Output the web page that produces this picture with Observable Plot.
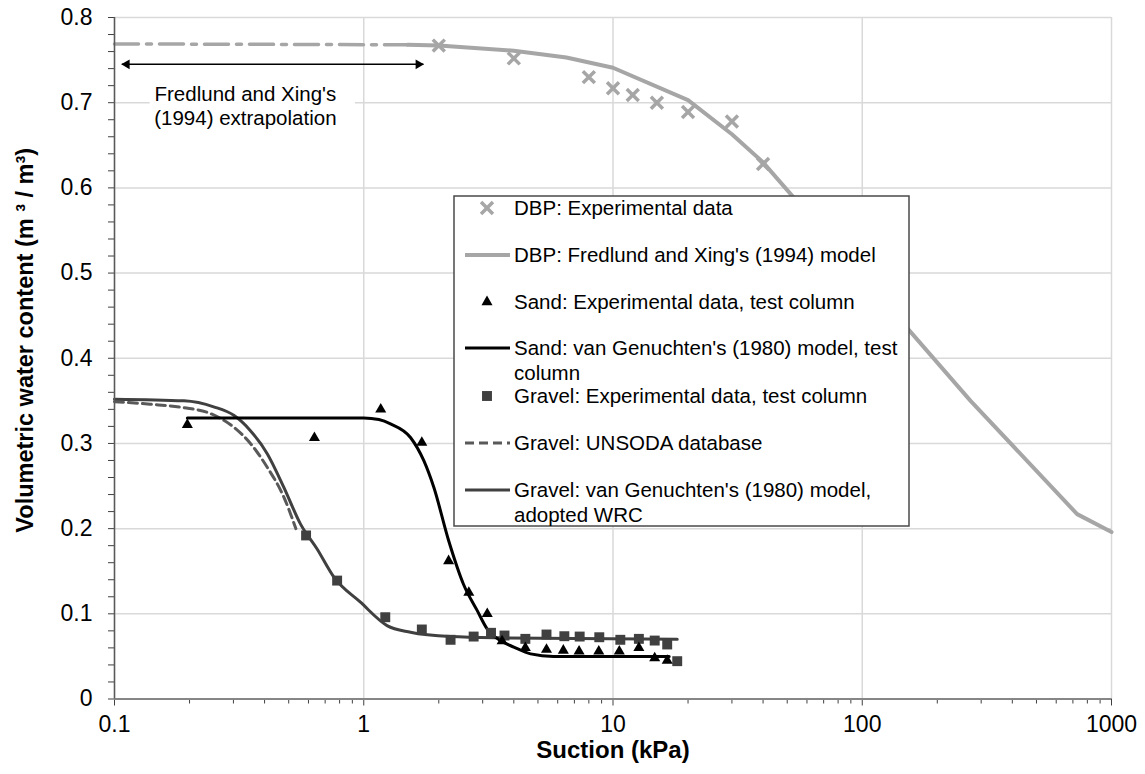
<!DOCTYPE html>
<html><head><meta charset="utf-8">
<script src="https://cdn.jsdelivr.net/npm/d3@7"></script>
<script src="https://cdn.jsdelivr.net/npm/@observablehq/plot@0.6"></script>
<style>
html,body{margin:0;padding:0;background:#fff;}
#chart{width:1145px;height:774px;}
</style></head><body><div id="chart"></div>
<script>
// ---- data ----
const dbpExpX = [2, 4, 8, 10, 12, 15, 20, 30, 40];
const dbpExpY = [0.767, 0.752, 0.730, 0.717, 0.709, 0.700, 0.689, 0.678, 0.628];
const dbpModelX = [1.5, 2, 4, 6.5, 10, 20, 30, 40, 272, 728, 1000];
const dbpModelY = [0.768, 0.767, 0.761, 0.753, 0.741, 0.703, 0.663, 0.630, 0.350, 0.217, 0.196];
const extrapX = [0.1, 1.5];
const extrapY = [0.769, 0.768];
const sandExpX = [0.196, 0.634, 1.17, 1.71, 2.19, 2.64, 3.13, 3.59, 4.45, 5.41, 6.32, 7.31, 8.77, 10.6, 12.7, 14.7, 16.5];
const sandExpY = [0.322, 0.3065, 0.340, 0.301, 0.162, 0.125, 0.100, 0.068, 0.060, 0.058, 0.057, 0.056, 0.056, 0.056, 0.060, 0.048, 0.045];
const sandModelX = [0.196, 0.5, 1.0, 1.15, 1.28, 1.54, 1.74, 1.91, 2.19, 2.51, 2.85, 3.13, 3.53, 4.0, 4.67, 5.78, 8, 12, 16.8];
const sandModelY = [0.330, 0.330, 0.330, 0.328, 0.323, 0.307, 0.280, 0.2485, 0.186, 0.135, 0.104, 0.082, 0.0686, 0.061, 0.053, 0.050, 0.0499, 0.0499, 0.0499];
const gravelExpX = [0.587, 0.782, 1.22, 1.71, 2.23, 2.76, 3.24, 3.67, 4.45, 5.41, 6.38, 7.35, 8.81, 10.7, 12.7, 14.7, 16.5, 18.1];
const gravelExpY = [0.192, 0.139, 0.096, 0.0816, 0.0695, 0.0733, 0.0777, 0.0745, 0.0706, 0.0757, 0.0737, 0.0733, 0.0725, 0.0695, 0.0706, 0.0686, 0.064, 0.0444];
const gravelModelX = [0.1, 0.19, 0.25, 0.301, 0.351, 0.41, 0.478, 0.557, 0.65, 0.759, 0.97, 1.24, 1.54, 2.23, 3.53, 18.1];
const gravelModelY = [0.352, 0.350, 0.343, 0.333, 0.315, 0.288, 0.2485, 0.2056, 0.176, 0.143, 0.1136, 0.0862, 0.0784, 0.0733, 0.0718, 0.0702];
const unsodaX = [0.1, 0.139, 0.19, 0.243, 0.301, 0.351, 0.41, 0.478, 0.534];
const unsodaY = [0.349, 0.346, 0.342, 0.335, 0.319, 0.300, 0.272, 0.237, 0.200];

const xMajor = [0.1, 1, 10, 100, 1000];
const xMinor = [2,3,4,5,6,7,8,9].flatMap(m => [0.1, 1, 10, 100].map(p => m * p));
const yMajor = [0, 0.1, 0.2, 0.3, 0.4, 0.5, 0.6, 0.7, 0.8];
const yMinor = [0.02,0.04,0.06,0.08,0.12,0.14,0.16,0.18,0.22,0.24,0.26,0.28,0.32,0.34,0.36,0.38,0.42,0.44,0.46,0.48,0.52,0.54,0.56,0.58,0.62,0.64,0.66,0.68,0.72,0.74,0.76,0.78];

// annotation (data units)
const annoText = ["Fredlund and Xing's\n(1994) extrapolation"];
const annoX = [0.335];
const annoY = [0.6964];
const annoBoxX = [0.139, 0.926];
const annoBoxY = [0.68, 0.735];
const arrowX = [0.107, 1.735];
const arrowY = [0.745, 0.745];

const legendLabels = [
  ["DBP: Experimental data"],
  ["DBP: Fredlund and Xing's (1994) model"],
  ["Sand: Experimental data, test column"],
  ["Sand: van Genuchten's (1980) model, test", "column"],
  ["Gravel: Experimental data, test column"],
  ["Gravel: UNSODA database"],
  ["Gravel: van Genuchten's (1980) model,", "adopted WRC"]
];

const pts = (xs, ys) => xs.map((x, i) => ({x, y: ys[i]}));

const GRAY = "#a6a6a6", DARK = "#404040";

const chart = Plot.plot({
  width: 1145, height: 774,
  marginLeft: 114, marginRight: 34, marginTop: 17, marginBottom: 75.5,
  style: {fontFamily: "'Liberation Sans', Arial, sans-serif", fontSize: "23px", background: "#fff", color: "#000", overflow: "visible"},
  x: {type: "log", domain: [0.1, 1000]},
  y: {domain: [0, 0.8]},
  marks: [
    Plot.gridX(xMajor, {stroke: "#d9d9d9", strokeOpacity: 1, strokeWidth: 1.5}),
    Plot.gridY(yMajor, {stroke: "#d9d9d9", strokeOpacity: 1, strokeWidth: 1.5}),
    Plot.rect([0], {x1: () => annoBoxX[0], x2: () => annoBoxX[1], y1: () => annoBoxY[0], y2: () => annoBoxY[1], fill: "#fff"}),
    Plot.line(pts(extrapX, extrapY), {x: "x", y: "y", stroke: GRAY, strokeWidth: 3.5, strokeDasharray: "24,8,5,8"}),
    Plot.line(pts(dbpModelX, dbpModelY), {x: "x", y: "y", stroke: GRAY, strokeWidth: 4}),
    Plot.dot(pts(dbpExpX, dbpExpY), {x: "x", y: "y", symbol: "times", r: 5.5, stroke: GRAY, strokeWidth: 3.5}),
    Plot.line(pts(unsodaX, unsodaY), {x: "x", y: "y", stroke: "#595959", strokeWidth: 3, strokeDasharray: "9,5", curve: "monotone-x"}),
    Plot.line(pts(gravelModelX, gravelModelY), {x: "x", y: "y", stroke: DARK, strokeWidth: 3, curve: "monotone-x"}),
    Plot.line(pts(sandModelX, sandModelY), {x: "x", y: "y", stroke: "#000", strokeWidth: 3, curve: "monotone-x"}),
    Plot.dot(pts(gravelExpX, gravelExpY), {x: "x", y: "y", symbol: "square", r: 5.6, fill: DARK}),
    Plot.dot(pts(sandExpX, sandExpY), {x: "x", y: "y", symbol: "triangle", r: 4.1, fill: "#000"}),
    Plot.axisX(xMinor, {tickSize: 5, tickFormat: () => "", stroke: DARK, label: null}),
    Plot.axisX(xMajor, {tickSize: 7, tickPadding: 10, tickFormat: d => String(d), stroke: DARK, label: null}),
    Plot.axisY(yMinor, {tickSize: 6, tickFormat: () => "", stroke: DARK, label: null}),
    Plot.axisY(yMajor, {tickSize: 6, tickPadding: 16, tickFormat: d => d === 0 ? "0" : d.toFixed(1), stroke: DARK, label: null}),
    Plot.ruleY([0], {stroke: "#868686", strokeWidth: 2}),
    Plot.ruleX([0.1], {stroke: "#595959", strokeWidth: 1.5}),
    Plot.text(annoText, {x: () => annoX[0], y: () => annoY[0], text: d => d, fontSize: 20.5, lineHeight: 1.17, textAnchor: "middle"}),
    Plot.link([0], {x1: () => arrowX[0], x2: () => arrowX[1], y1: () => arrowY[0], y2: () => arrowY[1], stroke: "#000", strokeWidth: 1.5}),
    Plot.dot([0], {x: () => arrowX[0], y: () => arrowY[0], symbol: "triangle", r: 3.6, fill: "#000", rotate: -90, dx: 5}),
    Plot.dot([0], {x: () => arrowX[1], y: () => arrowY[1], symbol: "triangle", r: 3.6, fill: "#000", rotate: 90, dx: -5}),
    Plot.text(["Suction (kPa)"], {frameAnchor: "bottom", textAnchor: "middle", lineAnchor: "middle", dy: 51, text: d => d, fontSize: 24, fontWeight: "bold"}),
    Plot.text(["Volumetric water content (m \u00b3 / m\u00b3)"], {frameAnchor: "left", textAnchor: "middle", lineAnchor: "middle", rotate: -90, dx: -89, dy: -18, text: d => d, fontSize: 23.5, fontWeight: "bold"})
  ]
});

// ---- legend (layout inside plot area) ----
const svg = d3.select(chart);
const lg = svg.append("g").attr("font-family", "'Liberation Sans', Arial, sans-serif").attr("font-size", 20.5).attr("text-anchor", "start");
lg.append("rect").attr("x", 454).attr("y", 196).attr("width", 455).attr("height", 330)
  .attr("fill", "#fff").attr("stroke", "#4a4a4a").attr("stroke-width", 1.5);
const rowY = [208, 255, 302, 348, 396, 443, 490];
const kinds = [
  {type: "sym", sym: d3.symbolTimes, r: 5.5, stroke: GRAY, sw: 3.5, fill: "none"},
  {type: "line", stroke: GRAY, sw: 4},
  {type: "sym", sym: d3.symbolTriangle, r: 4.1, fill: "#000"},
  {type: "line", stroke: "#000", sw: 3},
  {type: "sym", sym: d3.symbolSquare, r: 5.6, fill: DARK},
  {type: "line", stroke: "#595959", sw: 3, dash: "9,5"},
  {type: "line", stroke: DARK, sw: 3}
];
legendLabels.forEach((lines, i) => {
  const y = rowY[i], k = kinds[i];
  if (k.type === "sym") {
    lg.append("path").attr("transform", `translate(487,${y})`)
      .attr("d", d3.symbol(k.sym, Math.PI * k.r * k.r)())
      .attr("fill", k.fill).attr("stroke", k.stroke || "none").attr("stroke-width", k.sw || 0);
  } else {
    lg.append("line").attr("x1", 465).attr("x2", 510).attr("y1", y).attr("y2", y)
      .attr("stroke", k.stroke).attr("stroke-width", k.sw).attr("stroke-dasharray", k.dash || null);
  }
  const t = lg.append("text").attr("x", 514).attr("y", y);
  lines.forEach((s, j) => t.append("tspan").attr("x", 514).attr("dy", j === 0 ? "0.35em" : "1.2em").text(s));
});

document.getElementById("chart").append(chart);
</script></body></html>
